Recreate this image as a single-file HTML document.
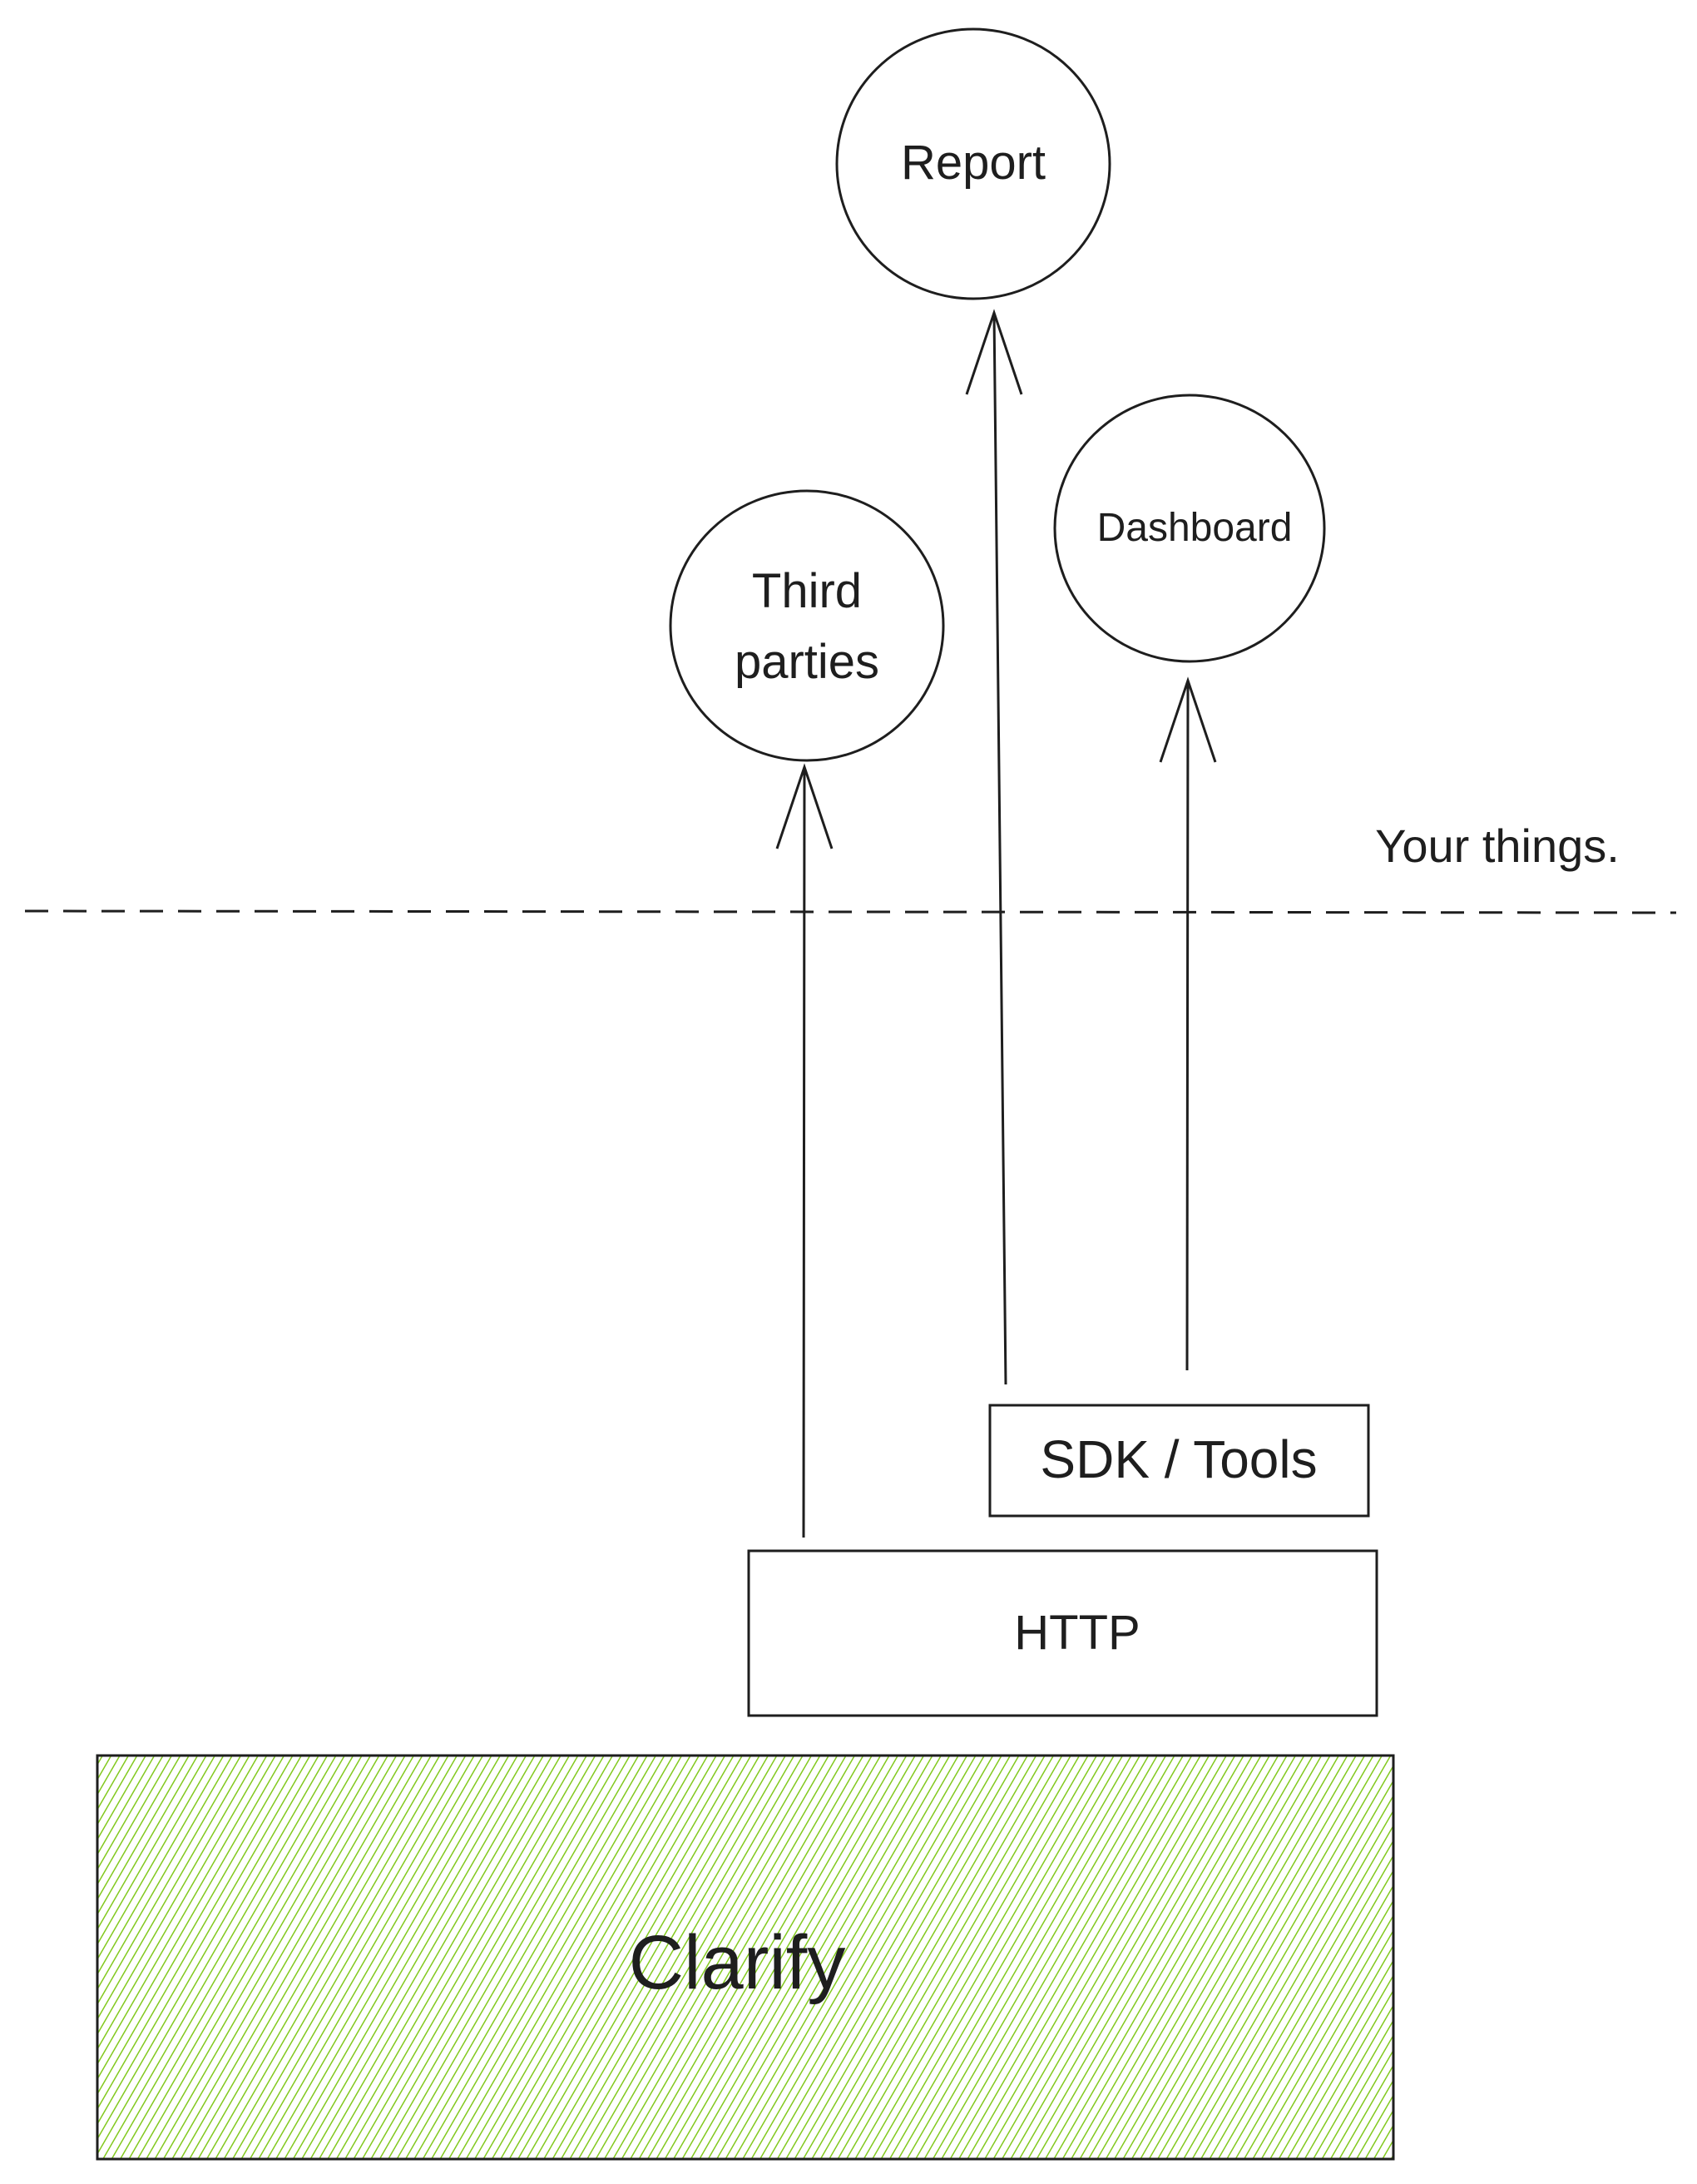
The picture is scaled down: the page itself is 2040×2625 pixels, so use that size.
<!DOCTYPE html>
<html><head><meta charset="utf-8"><style>
html,body{margin:0;padding:0;background:#fff;}
svg{display:block;}
text{font-family:"Liberation Sans",sans-serif;fill:#1e1e1e;}
</style></head><body>
<svg width="2040" height="2625" viewBox="0 0 2040 2625" xmlns="http://www.w3.org/2000/svg">
<defs>
<pattern id="h" patternUnits="userSpaceOnUse" width="9" height="9" patternTransform="rotate(30)">
<line x1="0" y1="0" x2="0" y2="9" stroke="#82c91e" stroke-width="3"/>
</pattern>
</defs>
<rect width="2040" height="2625" fill="#fff"/>
<g fill="none" stroke="#1e1e1e" stroke-width="3">
<ellipse cx="1170" cy="197" rx="164" ry="162"/>
<ellipse cx="970" cy="752" rx="164" ry="162"/>
<ellipse cx="1430" cy="635" rx="162" ry="160"/>
<line x1="30" y1="1095" x2="2015" y2="1097" stroke-dasharray="28,18"/>
<path d="M966 1848 L967 922 M934 1020 L967 922 L1000 1020"/>
<path d="M1209 1664 L1195 376 M1162 474 L1195 376 L1228 474"/>
<path d="M1427 1647 L1428 818 M1395 916 L1428 818 L1461 916"/>
<rect x="1190" y="1689" width="455" height="133"/>
<rect x="900" y="1864" width="755" height="198"/>
<rect x="117" y="2110" width="1558" height="485" fill="url(#h)"/>
</g>
<text x="1170" y="215" font-size="58" text-anchor="middle">Report</text>
<text x="970" y="730" font-size="58" text-anchor="middle">Third</text>
<text x="970" y="815" font-size="58" text-anchor="middle">parties</text>
<text x="1436" y="650" font-size="48" text-anchor="middle">Dashboard</text>
<text x="1800" y="1036" font-size="56" text-anchor="middle">Your things.</text>
<text x="1417" y="1776" font-size="64" text-anchor="middle">SDK / Tools</text>
<text x="1295" y="1982" font-size="58" text-anchor="middle">HTTP</text>
<text x="886" y="2390" font-size="92" text-anchor="middle">Clarify</text>
</svg>
</body></html>
